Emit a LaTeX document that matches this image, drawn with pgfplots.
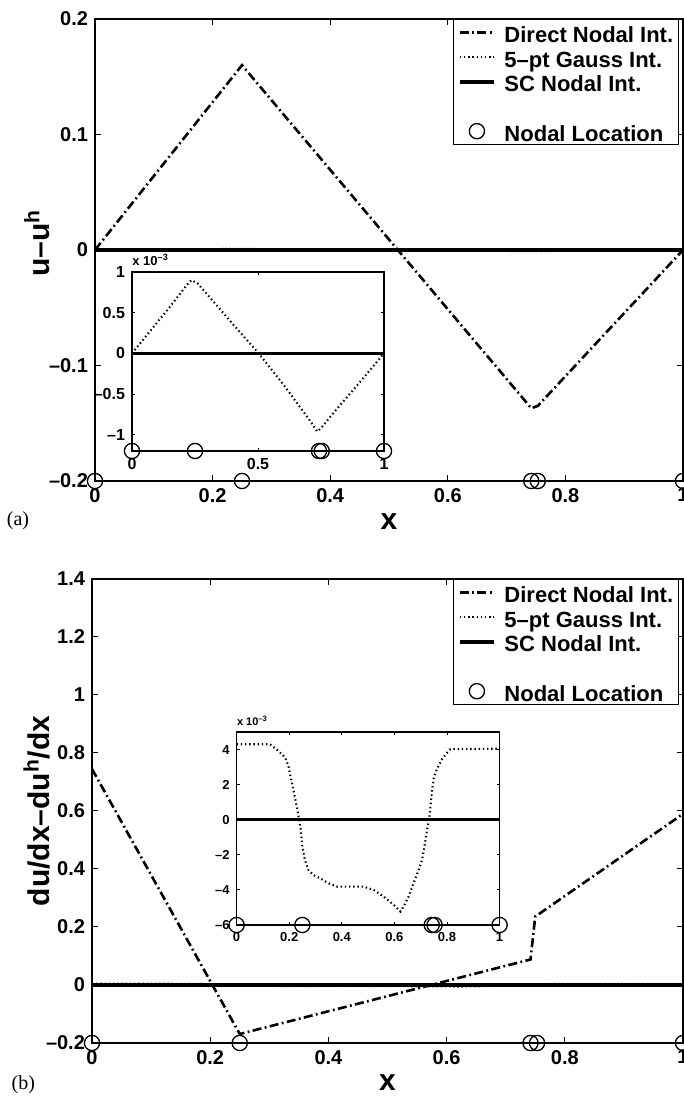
\documentclass[border=0pt]{standalone}
\usepackage{fontspec}
\setmainfont{Liberation Sans}
\newfontfamily\capfont{Liberation Serif}
\usepackage{pgfplots}
\usepackage{pgfplotstable}
\pgfplotsset{compat=1.18}

\pgfplotsset{
  matlab/.style={
    scale only axis, clip=false,
    axis line style={line width=0.6pt},
    tick align=inside,
    major tick length=3pt,
    tick style={line width=0.5pt, black},
    every tick label/.append style={font=\fontsize{10}{12}\selectfont\bfseries},
    label style={font=\fontsize{15}{18}\selectfont\bfseries},
  },
  direct/.style={black, line width=1.3pt, dash pattern=on 4.5pt off 1.7pt on 0.9pt off 1.7pt},
  gauss/.style={black, line width=1.05pt, dash pattern=on 0.7pt off 1.4pt},
  sc/.style={black, line width=1.7pt},
  nodal/.style={only marks, mark=o, mark size=3.8pt, mark options={line width=0.65pt, black, solid}},
  errlegend/.style={
    legend style={
      at={(rel axis cs:0.994,1)}, anchor=north east,
      draw=black, line width=0.5pt,
      font=\fontsize{11}{12}\selectfont\bfseries,
      inner xsep=2.5pt, inner ysep=0.5pt,
      nodes={inner sep=0.4pt, text height=10.7pt, text depth=0.8pt},
      row sep=0pt, column sep=4pt,
    },
    legend cell align=left,
  },
}

% ---- panel (a): error in u ----
\pgfplotstableread{
x y
0 0
0.25 0.16
0.742 -0.137
0.753 -0.135
1 0
}\directA

\pgfplotstableread{
x y
0 0
0.05 0.19
0.10 0.38
0.15 0.57
0.19 0.73
0.22 0.85
0.236 0.90
0.26 0.86
0.30 0.72
0.40 0.36
0.50 0.01
0.60 -0.38
0.70 -0.80
0.72 -0.89
0.735 -0.96
0.75 -0.92
0.80 -0.73
0.90 -0.37
1.00 0
}\gaussA

\pgfplotstableread{
x y
0 0
0.05 0.00019
0.10 0.00038
0.15 0.00057
0.19 0.00073
0.22 0.00085
0.236 0.00090
0.26 0.00086
0.30 0.00072
0.40 0.00036
0.50 0.00001
0.60 -0.00038
0.70 -0.00080
0.72 -0.00089
0.735 -0.00096
0.75 -0.00092
0.80 -0.00073
0.90 -0.00037
1.00 0
}\gaussAmain

% ---- panel (b): error in du/dx ----
\pgfplotstableread{
x y
0 0.745
0.25 -0.169
0.742 0.088
0.75 0.236
1 0.59
}\directB

\pgfplotstableread{
x y
0 4.30
0.127 4.30
0.159 3.92
0.184 3.55
0.197 3.08
0.203 2.60
0.213 1.94
0.229 0.72
0.238 0
0.244 -0.60
0.250 -1.55
0.260 -2.30
0.273 -2.87
0.292 -3.15
0.318 -3.34
0.349 -3.62
0.381 -3.81
0.483 -3.81
0.521 -4.00
0.559 -4.38
0.597 -4.85
0.623 -5.23
0.635 -4.94
0.654 -4.38
0.673 -3.62
0.692 -2.87
0.705 -2.30
0.714 -1.55
0.724 -0.60
0.732 0
0.737 0.72
0.743 1.66
0.750 2.42
0.762 2.89
0.781 3.45
0.801 3.83
0.813 4.02
1.000 4.05
}\gaussB

\pgfplotstableread{
x y
0 0.00430
0.127 0.00430
0.159 0.00392
0.184 0.00355
0.197 0.00308
0.203 0.00260
0.213 0.00194
0.229 0.00072
0.238 0
0.244 -0.00060
0.250 -0.00155
0.260 -0.00230
0.273 -0.00287
0.292 -0.00315
0.318 -0.00334
0.349 -0.00362
0.381 -0.00381
0.483 -0.00381
0.521 -0.00400
0.559 -0.00438
0.597 -0.00485
0.623 -0.00523
0.635 -0.00494
0.654 -0.00438
0.673 -0.00362
0.692 -0.00287
0.705 -0.00230
0.714 -0.00155
0.724 -0.00060
0.732 0
0.737 0.00072
0.743 0.00166
0.750 0.00242
0.762 0.00289
0.781 0.00345
0.801 0.00383
0.813 0.00402
1.000 0.00405
}\gaussBmain

\begin{document}
\begin{tikzpicture}

% ================= (a) =================
\begin{axis}[matlab, errlegend,
  at={(47.5pt,308.5pt)}, anchor=south west, width=294pt, height=231pt,
  xmin=0, xmax=1, ymin=-0.2, ymax=0.2,
  xtick={0,0.2,0.4,0.6,0.8,1}, xticklabels={0,0.2,0.4,0.6,0.8,1},
  ytick={-0.2,-0.1,0,0.1,0.2}, yticklabels={--0.2,--0.1,0,0.1,0.2},
  xlabel={x}, ylabel={u--u\textsuperscript{h}},
  xlabel style={at={(axis description cs:0.5,-0.0887)}, anchor=center},
  ylabel style={at={(axis description cs:-0.0986,0.515)}, anchor=center},
]
\addplot[direct] table {\directA};
\addlegendentry{Direct Nodal Int.}
\addplot[gauss] table {\gaussAmain};
\addlegendentry{5--pt Gauss Int.}
\addplot[sc] coordinates {(0,0) (1,0)};
\addlegendentry{SC Nodal Int.}
\addlegendimage{empty legend}
\addlegendentry{}
\addplot[nodal] coordinates {(0,-0.2) (0.25,-0.2) (0.742,-0.2) (0.753,-0.2) (1,-0.2)};
\addlegendentry{Nodal Location}
\end{axis}

% inset of (a)
\begin{axis}[matlab,
  at={(66pt,323.5pt)}, anchor=south west, width=126pt, height=89.5pt,
  xmin=0, xmax=1, ymin=-1.2, ymax=1,
  major tick length=1.5pt,
  xtick={0,0.5,1}, xticklabels={0,0.5,1},
  ytick={-1,-0.5,0,0.5,1}, yticklabels={--1,--0.5,0,0.5,1},
  every tick label/.append style={font=\fontsize{8}{9}\selectfont\bfseries},
]
\addplot[gauss] table {\gaussA};
\addplot[sc] coordinates {(0,0) (1,0)};
\addplot[nodal] coordinates {(0,-1.2) (0.25,-1.2) (0.742,-1.2) (0.753,-1.2) (1,-1.2)};
\node[anchor=base west, inner sep=0pt, yshift=3pt, font=\fontsize{6.5}{7}\selectfont\bfseries]
  at (rel axis cs:0,1) {x 10\textsuperscript{--3}};
\end{axis}

% ================= (b) =================
\begin{axis}[matlab, errlegend,
  at={(46pt,27.5pt)}, anchor=south west, width=295.5pt, height=232pt,
  xmin=0, xmax=1, ymin=-0.2, ymax=1.4,
  xtick={0,0.2,0.4,0.6,0.8,1}, xticklabels={0,0.2,0.4,0.6,0.8,1},
  ytick={-0.2,0,0.2,0.4,0.6,0.8,1,1.2,1.4},
  yticklabels={--0.2,0,0.2,0.4,0.6,0.8,1,1.2,1.4},
  xlabel={x}, ylabel={du/dx--du\textsuperscript{h}/dx},
  xlabel style={at={(axis description cs:0.5,-0.0862)}, anchor=center},
  ylabel style={at={(axis description cs:-0.0939,0.5)}, anchor=center},
]
\addplot[direct] table {\directB};
\addlegendentry{Direct Nodal Int.}
\addplot[gauss] table {\gaussBmain};
\addlegendentry{5--pt Gauss Int.}
\addplot[sc] coordinates {(0,0) (1,0)};
\addlegendentry{SC Nodal Int.}
\addlegendimage{empty legend}
\addlegendentry{}
\addplot[nodal] coordinates {(0,-0.2) (0.25,-0.2) (0.742,-0.2) (0.753,-0.2) (1,-0.2)};
\addlegendentry{Nodal Location}
\end{axis}

% inset of (b)
\begin{axis}[matlab,
  at={(118.3pt,86.5pt)}, anchor=south west, width=131.5pt, height=96.5pt,
  xmin=0, xmax=1, ymin=-6, ymax=5,
  major tick length=1.5pt,
  xtick={0,0.2,0.4,0.6,0.8,1}, xticklabels={0,0.2,0.4,0.6,0.8,1},
  ytick={-6,-4,-2,0,2,4}, yticklabels={--6,--4,--2,0,2,4},
  every tick label/.append style={font=\fontsize{6.5}{7.5}\selectfont\bfseries},
]
\addplot[gauss] table {\gaussB};
\addplot[sc] coordinates {(0,0) (1,0)};
\addplot[nodal] coordinates {(0,-6) (0.25,-6) (0.742,-6) (0.753,-6) (1,-6)};
\node[anchor=base west, inner sep=0pt, yshift=3pt, font=\fontsize{5.5}{6}\selectfont\bfseries]
  at (rel axis cs:0,1) {x 10\textsuperscript{--3}};
\end{axis}

% panel tags
\node[font=\capfont\fontsize{10}{12}\selectfont, inner sep=0pt] at (9pt,288.5pt) {(a)};
\node[font=\capfont\fontsize{10}{12}\selectfont, inner sep=0pt] at (11.7pt,6.5pt) {(b)};

\pgfresetboundingbox
\useasboundingbox (0pt,0pt) rectangle (342pt,549pt);
\end{tikzpicture}
\end{document}
